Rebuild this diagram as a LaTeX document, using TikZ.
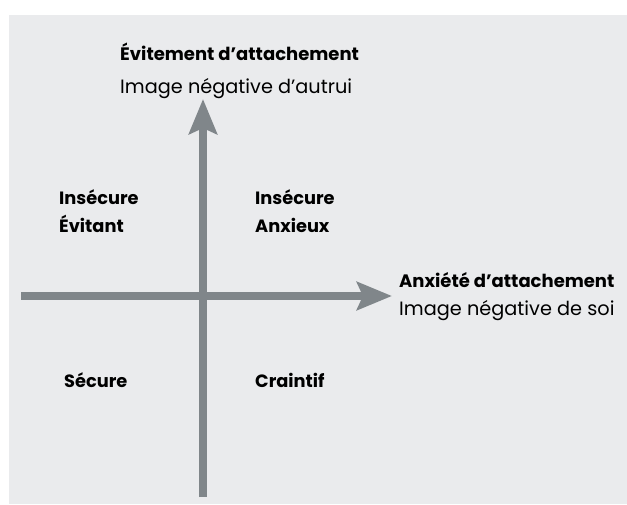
\documentclass[tikz,border=0pt]{standalone}
\usepackage{fontspec}
\setmainfont{Poppins}
\usetikzlibrary{arrows.meta}
\definecolor{panelbg}{RGB}{234,235,237}
\definecolor{axisgray}{RGB}{128,134,138}
\begin{document}
\begin{tikzpicture}[x=1pt,y=-1pt,
  axis/.style={draw=axisgray,line width=8pt,line cap=butt,-{Stealth[length=35pt,width=28pt,inset=6pt]}},
  quad/.style={anchor=base west,inner sep=0pt,font=\fontsize{17.8}{28}\selectfont\bfseries,align=left},
  title/.style={anchor=base west,inner sep=0pt,font=\fontsize{18}{18}\selectfont\bfseries},
  sub/.style={anchor=base west,inner sep=0pt,font=\fontsize{19.3}{19}\selectfont}]
\useasboundingbox (0,0) rectangle (627,504);
\fill[panelbg] (9,15) rectangle (627,504);
\coordinate (hs) at (21,296);
\coordinate (he) at (392,296);
\coordinate (vs) at (203,497);
\coordinate (ve) at (203,99);
\draw[axis] (hs) -- (he);
\draw[axis] (vs) -- (ve);
\node[title] (yt) at (120,60) {Évitement d’attachement};
\node[sub] (ys) at (120,93) {Image négative d’autrui};
\node[title] (xt) at (399,287) {Anxiété d’attachement};
\node[sub] (xs) at (399,315) {Image négative de soi};
\node[quad] (q1a) at (59,204) {Insécure};
\node[quad] (q1b) at (59,232) {Évitant};
\node[quad] (q2a) at (255,204) {Insécure};
\node[quad] (q2b) at (255,232) {Anxieux};
\node[quad] (q3) at (64,387) {Sécure};
\node[quad] (q4) at (255,387) {Craintif};
\end{tikzpicture}
\end{document}
